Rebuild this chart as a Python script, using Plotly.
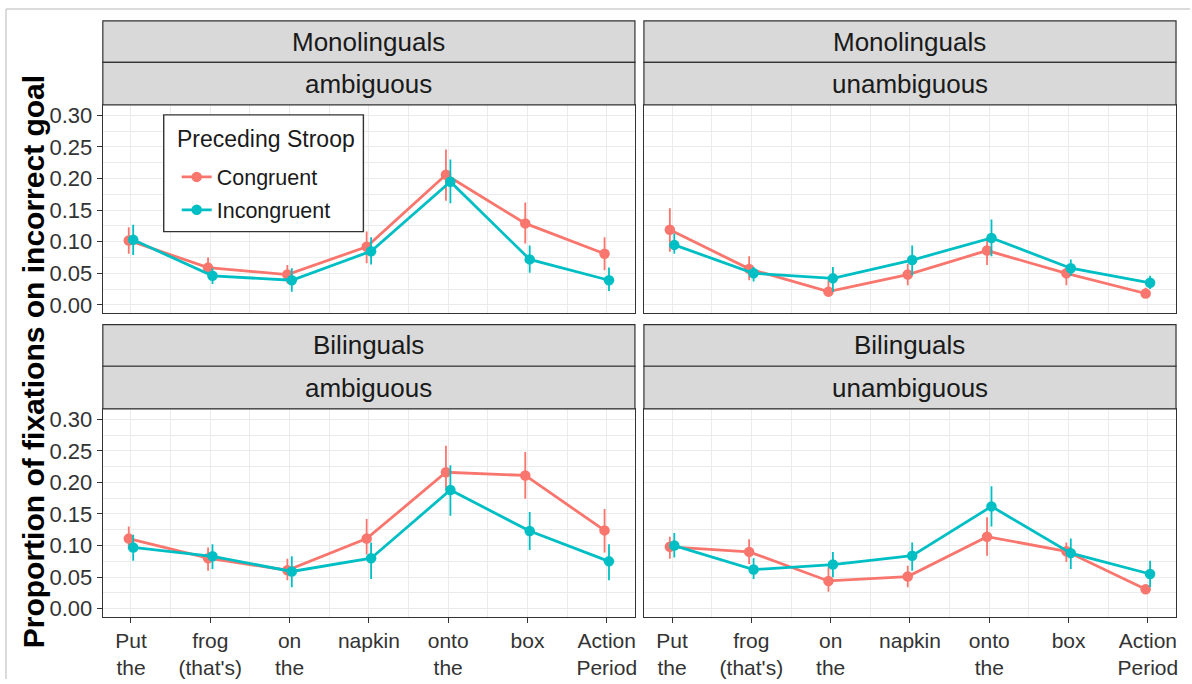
import plotly.graph_objects as go

# ---------------- data ----------------
categories = ["Put<br>the", "frog<br>(that's)", "on<br>the", "napkin", "onto<br>the", "box", "Action<br>Period"]
groups = ["Monolinguals", "Bilinguals"]
conditions = ["ambiguous", "unambiguous"]
series_names = ["Congruent", "Incongruent"]

# Monolinguals / ambiguous
mono_amb_cong = [0.102, 0.059, 0.048, 0.092, 0.206, 0.129, 0.081]
mono_amb_cong_lo = [0.081, 0.045, 0.034, 0.066, 0.165, 0.097, 0.055]
mono_amb_cong_hi = [0.123, 0.075, 0.063, 0.116, 0.246, 0.162, 0.107]
mono_amb_inc = [0.103, 0.046, 0.039, 0.085, 0.195, 0.072, 0.039]
mono_amb_inc_lo = [0.079, 0.033, 0.021, 0.064, 0.161, 0.051, 0.022]
mono_amb_inc_hi = [0.127, 0.058, 0.058, 0.107, 0.230, 0.094, 0.059]

# Monolinguals / unambiguous
mono_una_cong = [0.119, 0.057, 0.021, 0.048, 0.086, 0.050, 0.018]
mono_una_cong_lo = [0.084, 0.039, 0.013, 0.031, 0.063, 0.031, 0.011]
mono_una_cong_hi = [0.153, 0.077, 0.039, 0.065, 0.105, 0.063, 0.027]
mono_una_inc = [0.095, 0.050, 0.042, 0.071, 0.106, 0.058, 0.035]
mono_una_inc_lo = [0.081, 0.037, 0.021, 0.047, 0.077, 0.046, 0.025]
mono_una_inc_hi = [0.113, 0.060, 0.060, 0.094, 0.135, 0.072, 0.046]

# Bilinguals / ambiguous
bi_amb_cong = [0.111, 0.080, 0.061, 0.111, 0.216, 0.211, 0.124]
bi_amb_cong_lo = [0.094, 0.060, 0.045, 0.086, 0.189, 0.174, 0.089]
bi_amb_cong_hi = [0.130, 0.097, 0.079, 0.142, 0.258, 0.248, 0.158]
bi_amb_inc = [0.097, 0.083, 0.059, 0.080, 0.188, 0.123, 0.075]
bi_amb_inc_lo = [0.076, 0.063, 0.034, 0.047, 0.147, 0.093, 0.045]
bi_amb_inc_hi = [0.117, 0.102, 0.083, 0.105, 0.227, 0.153, 0.102]

# Bilinguals / unambiguous
bi_una_cong = [0.098, 0.090, 0.044, 0.051, 0.114, 0.091, 0.031]
bi_una_cong_lo = [0.079, 0.071, 0.027, 0.034, 0.084, 0.074, 0.024]
bi_una_cong_hi = [0.114, 0.110, 0.066, 0.068, 0.145, 0.105, 0.038]
bi_una_inc = [0.100, 0.062, 0.070, 0.084, 0.162, 0.088, 0.055]
bi_una_inc_lo = [0.081, 0.047, 0.050, 0.060, 0.130, 0.063, 0.034]
bi_una_inc_hi = [0.120, 0.080, 0.090, 0.105, 0.194, 0.111, 0.076]

y_ticks = [0.00, 0.05, 0.10, 0.15, 0.20, 0.25, 0.30]
y_ticklabels = ["0.00", "0.05", "0.10", "0.15", "0.20", "0.25", "0.30"]

colors = {"Congruent": "#F8766D", "Incongruent": "#00BFC4"}
dodge = {"Congruent": -0.028, "Incongruent": 0.028}

panels = [
    ("Monolinguals", "ambiguous", "", {"Congruent": (mono_amb_cong, mono_amb_cong_lo, mono_amb_cong_hi),
                                        "Incongruent": (mono_amb_inc, mono_amb_inc_lo, mono_amb_inc_hi)}),
    ("Monolinguals", "unambiguous", "2", {"Congruent": (mono_una_cong, mono_una_cong_lo, mono_una_cong_hi),
                                           "Incongruent": (mono_una_inc, mono_una_inc_lo, mono_una_inc_hi)}),
    ("Bilinguals", "ambiguous", "3", {"Congruent": (bi_amb_cong, bi_amb_cong_lo, bi_amb_cong_hi),
                                       "Incongruent": (bi_amb_inc, bi_amb_inc_lo, bi_amb_inc_hi)}),
    ("Bilinguals", "unambiguous", "4", {"Congruent": (bi_una_cong, bi_una_cong_lo, bi_una_cong_hi),
                                         "Incongruent": (bi_una_inc, bi_una_inc_lo, bi_una_inc_hi)}),
]

# ---------------- layout geometry (pixels) ----------------
W, H = 1192, 684
col_x = [(103, 636), (645, 1178)]
row_panel_y = [(104, 314), (411, 621)]
row_strip_y = [((19, 61), (61, 104)), ((326, 368), (368, 411))]


def px_x(p):
    return p / W


def px_y(p):
    return 1 - p / H


fig = go.Figure()

xpos = list(range(1, len(categories) + 1))

for i, (grp, cond, sfx, data) in enumerate(panels):
    for name in series_names:
        mean, lo, hi = data[name]
        xs = [x + dodge[name] for x in xpos]
        fig.add_trace(go.Scatter(
            x=xs, y=mean,
            mode="lines+markers",
            name=name,
            legendgroup=name,
            showlegend=(i == 0),
            line=dict(color=colors[name], width=2.8),
            marker=dict(color=colors[name], size=10.5),
            error_y=dict(type="data", symmetric=False,
                         array=[h - m for h, m in zip(hi, mean)],
                         arrayminus=[m - l for m, l in zip(mean, lo)],
                         color=colors[name], thickness=1.8, width=0),
            xaxis="x" + sfx, yaxis="y" + sfx,
        ))

layout = dict(
    width=W, height=H,
    margin=dict(l=0, r=0, t=0, b=0),
    paper_bgcolor="white",
    plot_bgcolor="white",
    font=dict(family="Liberation Sans, Arial, sans-serif", color="#333333"),
    showlegend=True,
    legend=dict(
        x=px_x(177), y=px_y(156), xanchor="left", yanchor="top",
        bgcolor="rgba(0,0,0,0)", borderwidth=0,
        font=dict(size=21.5, color="#1a1a1a"),
        tracegroupgap=2, itemwidth=30,
    ),
)

shapes = []
annotations = []

for i, (grp, cond, sfx, data) in enumerate(panels):
    r, c = divmod(i, 2)
    x0, x1 = col_x[c]
    y0, y1 = row_panel_y[r]
    xname = "xaxis" + sfx
    yname = "yaxis" + sfx
    layout[xname] = dict(
        domain=[px_x(x0), px_x(x1)],
        range=[0.645, 7.355],
        anchor="y" + sfx,
        tickmode="array", tickvals=xpos,
        ticktext=categories if r == 1 else [""] * len(categories),
        showticklabels=(r == 1),
        ticks="outside" if r == 1 else "",
        ticklen=5, tickwidth=1.2, tickcolor="#333333",
        tickfont=dict(size=21, color="#333333"),
        showgrid=True, gridcolor="#EBEBEB", gridwidth=1.2,
        minor=dict(tickvals=[1.5, 2.5, 3.5, 4.5, 5.5, 6.5], showgrid=True,
                   gridcolor="#EBEBEB", gridwidth=0.8, ticks=""),
        showline=True, linecolor="#333333", linewidth=1.2, mirror=True,
        zeroline=False, fixedrange=True,
    )
    layout[yname] = dict(
        domain=[px_y(y1), px_y(y0)],
        range=[-0.0125, 0.3165],
        anchor="x" + sfx,
        tickmode="array", tickvals=y_ticks,
        ticktext=y_ticklabels if c == 0 else [""] * len(y_ticks),
        showticklabels=(c == 0),
        ticks="outside" if c == 0 else "",
        ticklen=5, tickwidth=1.2, tickcolor="#333333",
        tickfont=dict(size=22, color="#333333"),
        showgrid=True, gridcolor="#EBEBEB", gridwidth=1.2,
        minor=dict(tickvals=[0.025, 0.075, 0.125, 0.175, 0.225, 0.275], showgrid=True,
                   gridcolor="#EBEBEB", gridwidth=0.8, ticks=""),
        showline=True, linecolor="#333333", linewidth=1.2, mirror=True,
        zeroline=False, fixedrange=True,
    )
    for (sy0, sy1), label in zip(row_strip_y[r], [grp, cond]):
        shapes.append(dict(type="rect", xref="paper", yref="paper",
                           x0=px_x(x0), x1=px_x(x1), y0=px_y(sy1), y1=px_y(sy0),
                           fillcolor="#D9D9D9", line=dict(color="#333333", width=1.2),
                           layer="above"))
        annotations.append(dict(xref="paper", yref="paper",
                                x=px_x((x0 + x1) / 2), y=px_y((sy0 + sy1) / 2),
                                text=label, showarrow=False,
                                font=dict(size=26, color="#1a1a1a"),
                                xanchor="center", yanchor="middle"))

# legend box and title
shapes.append(dict(type="rect", xref="paper", yref="paper",
                   x0=px_x(164), x1=px_x(364), y0=px_y(232), y1=px_y(114),
                   fillcolor="white", line=dict(color="#333333", width=1.4), layer="above"))
annotations.append(dict(xref="paper", yref="paper", x=px_x(175), y=px_y(138),
                        text="Preceding Stroop", showarrow=False,
                        font=dict(size=23, color="#1a1a1a"),
                        xanchor="left", yanchor="middle"))

# y-axis title
annotations.append(dict(xref="paper", yref="paper", x=px_x(33), y=px_y(363),
                        text="<b>Proportion of fixations on incorrect goal</b>",
                        textangle=-90, showarrow=False,
                        font=dict(size=30, color="black"),
                        xanchor="center", yanchor="middle"))

# outer light frame
shapes.append(dict(type="line", xref="paper", yref="paper", x0=px_x(6), x1=1, y0=px_y(7), y1=px_y(7),
                   line=dict(color="#CFCFCF", width=1.5)))
shapes.append(dict(type="line", xref="paper", yref="paper", x0=px_x(6), x1=px_x(6), y0=0, y1=px_y(7),
                   line=dict(color="#CFCFCF", width=1.5)))

layout["shapes"] = shapes
layout["annotations"] = annotations

fig.update_layout(**layout)
fig.write_html(
    "out.html",
    config={"displayModeBar": False},
    post_script="document.body.style.margin='0';document.body.style.overflow='hidden';",
)
